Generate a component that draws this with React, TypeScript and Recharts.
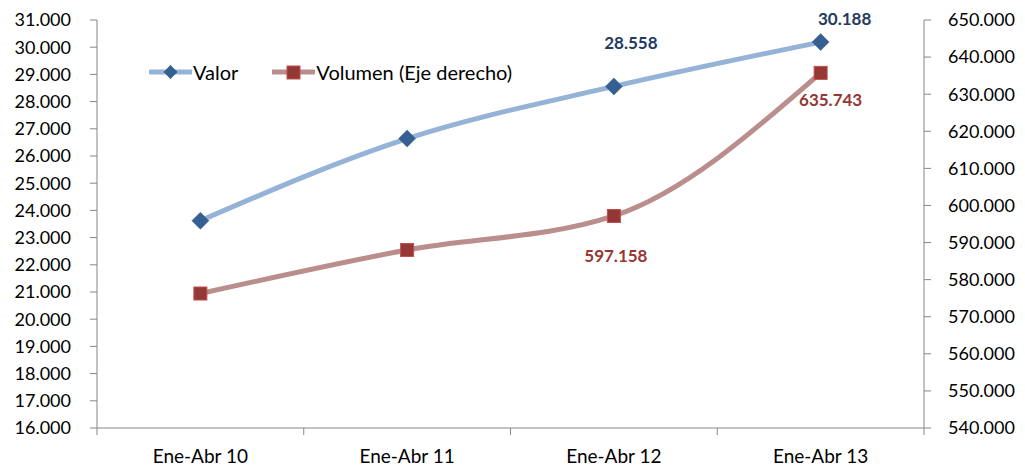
import React from "react";
import { LineChart, Line, XAxis, YAxis } from "recharts";

const categories = ["Ene-Abr 10", "Ene-Abr 11", "Ene-Abr 12", "Ene-Abr 13"];
const valor = [23620, 26640, 28558, 30188];
const volumen = [576260, 588000, 597158, 635743];
const leftTicks = [16000, 17000, 18000, 19000, 20000, 21000, 22000, 23000, 24000, 25000, 26000, 27000, 28000, 29000, 30000, 31000];
const rightTicks = [540000, 550000, 560000, 570000, 580000, 590000, 600000, 610000, 620000, 630000, 640000, 650000];
const labelledIdx = [2, 3];

// label placement offsets (style only)
const valorLabelOffset = [
  { dx: 0, dy: 0 },
  { dx: 0, dy: 0 },
  { dx: 17, dy: -44 },
  { dx: 24, dy: -24 },
];
const volLabelOffset = [
  { dx: 0, dy: 0 },
  { dx: 0, dy: 0 },
  { dx: 2, dy: 40 },
  { dx: 10, dy: 27 },
];

const data = categories.map((c, i) => ({ name: c, valor: valor[i], volumen: volumen[i] }));

const fmt = (n: number) =>
  Math.round(n)
    .toString()
    .replace(/\B(?=(\d{3})+(?!\d))/g, ".");

const FONT = "Lato, 'Open Sans', sans-serif";
const AXIS = "#868686";
const VALOR_LINE = "#95B3D7";
const VALOR_MARK = "#366092";
const VALOR_LABEL = "#1F3A64";
const VOL_LINE = "#B98E8D";
const VOL_MARK = "#953735";
const VOL_MARK_STROKE = "#C0504D";
const X_TICK_MARGIN = 22;
const X_MARK_LEN = 7;

const Diamond = (props: any) => {
  const { cx, cy } = props;
  if (cx == null || cy == null) return null;
  const r = 8.5;
  return (
    <polygon
      points={`${cx},${cy - r} ${cx + r},${cy} ${cx},${cy + r} ${cx - r},${cy}`}
      fill={VALOR_MARK}
      stroke={VALOR_MARK}
      strokeWidth={0.5}
    />
  );
};

const Square = (props: any) => {
  const { cx, cy } = props;
  if (cx == null || cy == null) return null;
  const s = 13;
  return <rect x={cx - s / 2} y={cy - s / 2} width={s} height={s} fill={VOL_MARK} stroke={VOL_MARK_STROKE} strokeWidth={1} />;
};

const makeLabel = (offsets: { dx: number; dy: number }[], color: string) => (props: any) => {
  const { x, y, index, value } = props;
  if (!labelledIdx.includes(index)) return null;
  const o = offsets[index];
  return (
    <text
      x={x + o.dx}
      y={y + o.dy}
      textAnchor="middle"
      dominantBaseline="central"
      fill={color}
      fontFamily={FONT}
      fontWeight={700}
      fontSize={17}
    >
      {fmt(value)}
    </text>
  );
};

const CategoryTick = (props: any) => {
  const { x, y, payload, index, visibleTicksCount } = props;
  const half = payload?.offset ?? 0;
  const axisY = y - X_TICK_MARGIN;
  const isLast = visibleTicksCount != null ? index === visibleTicksCount - 1 : index === categories.length - 1;
  return (
    <g>
      <line x1={x - half} y1={axisY} x2={x - half} y2={axisY + X_MARK_LEN} stroke={AXIS} />
      {isLast && <line x1={x + half} y1={axisY} x2={x + half} y2={axisY + X_MARK_LEN} stroke={AXIS} />}
      <text x={x} y={y} dy="0.71em" textAnchor="middle" fill="#000" fontFamily={FONT} fontSize={19}>
        {payload.value}
      </text>
    </g>
  );
};

const LegendItem = ({ line, marker, text }: { line: string; marker: React.ReactNode; text: string }) => (
  <div style={{ display: "flex", alignItems: "center" }}>
    <svg width={43} height={20} style={{ display: "block" }}>
      <line x1={1} y1={10} x2={42} y2={10} stroke={line} strokeWidth={5} strokeLinecap="round" />
      {marker}
    </svg>
    <span style={{ fontFamily: FONT, fontSize: 20, color: "#000", marginLeft: 1, whiteSpace: "nowrap" }}>{text}</span>
  </div>
);

export default function App() {
  return (
    <div style={{ position: "relative", width: 1009, height: 458 }}>
      <LineChart width={1009} height={458} data={data} margin={{ top: 12, right: 0, left: 0, bottom: 0 }}>
        <XAxis
          dataKey="name"
          scale="band"
          interval={0}
          axisLine={{ stroke: AXIS }}
          tickLine={false}
          tickSize={0}
          tickMargin={X_TICK_MARGIN}
          height={38}
          tick={<CategoryTick />}
        />
        <YAxis
          yAxisId="left"
          domain={[16000, 31000]}
          ticks={leftTicks}
          interval={0}
          width={89}
          tickSize={7}
          tickMargin={19}
          tickFormatter={fmt}
          axisLine={{ stroke: AXIS }}
          tickLine={{ stroke: AXIS }}
          tick={{ fill: "#000", fontFamily: FONT, fontSize: 18 }}
        />
        <YAxis
          yAxisId="right"
          orientation="right"
          domain={[540000, 650000]}
          ticks={rightTicks}
          interval={0}
          width={93}
          tickSize={7}
          tickMargin={17}
          tickFormatter={fmt}
          axisLine={{ stroke: AXIS }}
          tickLine={{ stroke: AXIS }}
          tick={{ fill: "#000", fontFamily: FONT, fontSize: 18 }}
        />
        <Line
          yAxisId="left"
          type="monotone"
          dataKey="valor"
          stroke={VALOR_LINE}
          strokeWidth={5}
          dot={<Diamond />}
          activeDot={false}
          label={makeLabel(valorLabelOffset, VALOR_LABEL)}
          isAnimationActive={false}
        />
        <Line
          yAxisId="right"
          type="monotone"
          dataKey="volumen"
          stroke={VOL_LINE}
          strokeWidth={5}
          dot={<Square />}
          activeDot={false}
          label={makeLabel(volLabelOffset, VOL_MARK)}
          isAnimationActive={false}
        />
      </LineChart>
      <div style={{ position: "absolute", left: 141, top: 52, display: "flex", alignItems: "center", gap: 34 }}>
        <LegendItem
          line={VALOR_LINE}
          text="Valor"
          marker={<polygon points="21.5,3 28.5,10 21.5,17 14.5,10" fill={VALOR_MARK} />}
        />
        <LegendItem
          line={VOL_LINE}
          text="Volumen (Eje derecho)"
          marker={<rect x={15} y={4} width={13} height={13} fill={VOL_MARK} stroke={VOL_MARK_STROKE} strokeWidth={1} />}
        />
      </div>
    </div>
  );
}
